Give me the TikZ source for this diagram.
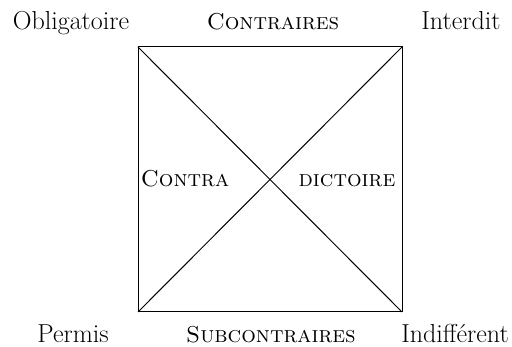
\documentclass[tikz,border=0pt]{standalone}
\usepackage{tikz}

\begin{document}
\begin{tikzpicture}[x=1pt, y=-1pt, line width=1pt]
\tikzstyle{term} = [inner sep=0pt, anchor=base, font=\fontsize{26}{30}\selectfont]
\tikzstyle{relation} = [term, font=\fontsize{23}{27}\selectfont\scshape]

\useasboundingbox (0,0) rectangle (512,347);

\coordinate (tl) at (138,47);
\coordinate (tr) at (402,47);
\coordinate (bl) at (138,312);
\coordinate (br) at (402,312);

\node [term] (obl) at (71,30) {Obligatoire};
\node [relation] (contr) at (273,30) {Contraires};
\node [term] (inter) at (461,30) {Interdit};
\node [relation] (contra) at (185,187) {Contra};
\node [relation] (dict) at (347,187) {dictoire};
\node [term] (perm) at (73,343) {Permis};
\node [relation] (sub) at (271,343) {Subcontraires};
\node [term] (indif) at (455,343) {Indifférent};

\draw (tl) -- (tr) -- (br) -- (bl) -- cycle;
\draw (tl) -- (br);
\draw (tr) -- (bl);
\end{tikzpicture}
\end{document}
